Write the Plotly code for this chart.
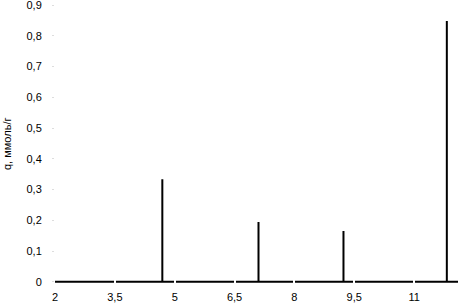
import plotly.graph_objects as go

# Data
x_start = 2.0
x_end = 12.1
peak_x = [4.69, 7.10, 9.23, 11.82]
peak_q = [0.333, 0.194, 0.165, 0.848]

x_ticks = [2, 3.5, 5, 6.5, 8, 9.5, 11]
y_ticks = [0, 0.1, 0.2, 0.3, 0.4, 0.5, 0.6, 0.7, 0.8, 0.9]
y_title = "q, ммоль/г"

xs = [x_start]
ys = [0]
for px, q in zip(peak_x, peak_q):
    xs += [px, px, px]
    ys += [0, q, 0]
xs.append(x_end)
ys.append(0)

fig = go.Figure()
fig.add_trace(go.Scatter(x=xs, y=ys, mode="lines",
                         line=dict(color="black", width=2), hoverinfo="skip"))

font = dict(family="Liberation Sans, Arial, sans-serif", size=11, color="black")
W, H = 459, 308
ml, mr, mt, mb = 55, 1, 5, 25
fig.update_layout(
    width=W, height=H,
    margin=dict(l=ml, r=mr, t=mt, b=mb, autoexpand=False),
    paper_bgcolor="white", plot_bgcolor="white",
    separators=", ",
    showlegend=False,
    font=font,
    xaxis=dict(range=[x_start, x_end], tickvals=x_ticks, showgrid=False,
               zeroline=False, showline=False, ticks="inside", ticklen=4,
               tickwidth=2, tickcolor="white", layer="above traces",
               ticklabelstandoff=6, ticklabeloverflow="allow",
               tickfont=font, automargin=False),
    yaxis=dict(range=[-0.004, 0.9], tickvals=y_ticks, showgrid=False,
               zeroline=False, showline=False, ticks="outside", ticklen=2,
               tickcolor="#dddddd", ticklabelstandoff=8, tickfont=font,
               ticklabeloverflow="allow", automargin=False),
    annotations=[dict(text=y_title, textangle=-90, showarrow=False,
                      xref="paper", yref="paper",
                      x=(7 - ml) / (W - ml - mr), y=0.5,
                      xanchor="center", yanchor="middle", font=font)],
)
fig.write_html("out.html", config={"displayModeBar": False},
               post_script="document.body.style.margin='0';document.body.style.overflow='hidden';")
